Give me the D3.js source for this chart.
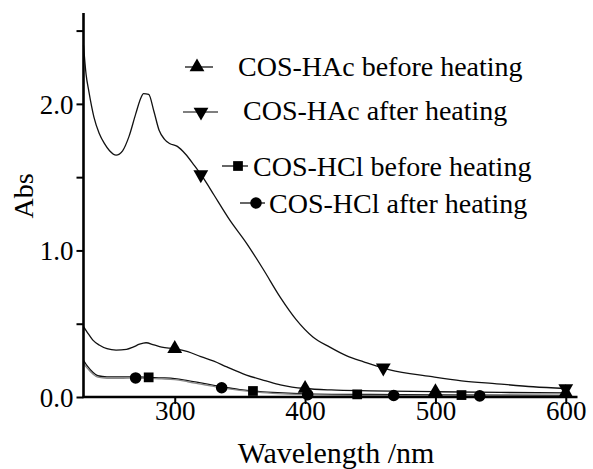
<!DOCTYPE html>
<html>
<head>
<meta charset="utf-8">
<script src="https://cdn.jsdelivr.net/npm/d3@7"></script>
<style>
  html, body { margin: 0; padding: 0; background: #fff; }
  svg { display: block; }
  text { font-family: "Liberation Serif", "Times New Roman", serif; fill: #000; }
</style>
</head>
<body>
<svg id="chart" width="593" height="469"></svg>
<script>
// UV-Vis absorption spectra of chitooligosaccharide solutions

const xTicks = [300, 400, 500, 600];
const yTicks = [0, 0.5, 1.0, 1.5, 2.0, 2.5];
const yTickLabels = ["0.0", "", "1.0", "", "2.0", ""];

// COS-HAc after heating
const hacAfterWl  = [230, 232, 234, 238, 242, 246, 250, 255, 260, 265, 270, 274, 276, 280, 284, 288, 292, 296, 302, 308, 315, 323, 330, 342, 355, 368, 381, 393, 406, 419, 432, 445, 465, 496, 520, 547, 575, 600];
const hacAfterAbs = [2.40, 2.20, 2.09, 1.91, 1.80, 1.73, 1.68, 1.65, 1.68, 1.78, 1.93, 2.04, 2.07, 2.065, 1.95, 1.82, 1.76, 1.73, 1.71, 1.66, 1.58, 1.48, 1.38, 1.21, 1.05, 0.87, 0.68, 0.53, 0.41, 0.34, 0.28, 0.24, 0.185, 0.14, 0.11, 0.09, 0.07, 0.058];

// COS-HAc before heating
const hacBeforeWl  = [230, 233, 237, 242, 248, 255, 263, 268, 273, 278, 284, 290, 300, 310, 320, 330, 340, 355, 370, 381, 390, 400, 420, 450, 500, 550, 600];
const hacBeforeAbs = [0.48, 0.44, 0.39, 0.355, 0.33, 0.32, 0.325, 0.34, 0.36, 0.37, 0.355, 0.34, 0.33, 0.31, 0.275, 0.245, 0.205, 0.15, 0.11, 0.082, 0.068, 0.058, 0.048, 0.042, 0.036, 0.031, 0.028];

// COS-HCl before heating
const hclBeforeWl  = [230, 233, 237, 241, 248, 260, 270, 280, 290, 300, 310, 320, 330, 340, 350, 360, 375, 400, 450, 500, 550, 600];
const hclBeforeAbs = [0.25, 0.21, 0.17, 0.145, 0.137, 0.137, 0.138, 0.134, 0.131, 0.126, 0.112, 0.096, 0.079, 0.063, 0.051, 0.041, 0.031, 0.022, 0.017, 0.014, 0.012, 0.011];

// COS-HCl after heating
const hclAfterWl  = [230, 233, 237, 241, 248, 260, 270, 280, 290, 300, 310, 320, 330, 340, 350, 360, 375, 400, 450, 500, 550, 600];
const hclAfterAbs = [0.23, 0.195, 0.158, 0.135, 0.128, 0.128, 0.130, 0.126, 0.123, 0.118, 0.104, 0.088, 0.072, 0.057, 0.045, 0.035, 0.025, 0.016, 0.011, 0.009, 0.007, 0.006];

// marker positions along each spectrum (nm)
const hacAfterMarks  = [320, 460, 600];
const hacBeforeMarks = [300, 400, 500, 600];
const hclBeforeMarks = [280, 360, 440, 520];
const hclAfterMarks  = [270, 336, 402, 468, 534];

const seriesNames = ["COS-HAc before heating", "COS-HAc after heating", "COS-HCl before heating", "COS-HCl after heating"];

const svg = d3.select("#chart");

const x = d3.scaleLinear().domain([230, 609]).range([83.5, 577.5]);
const y = d3.scaleLinear().domain([0, 2.62]).range([397, 13]);

function interp(wls, vals, w) {
  for (let i = 0; i < wls.length - 1; i++) {
    if (w >= wls[i] && w <= wls[i + 1]) {
      const t = (w - wls[i]) / (wls[i + 1] - wls[i]);
      return vals[i] + t * (vals[i + 1] - vals[i]);
    }
  }
  return vals[vals.length - 1];
}

const line = d3.line()
  .x(d => x(d[0]))
  .y(d => y(d[1]))
  .curve(d3.curveMonotoneX);

const series = [
  { wl: hacBeforeWl, abs: hacBeforeAbs, marks: hacBeforeMarks, symbol: d3.symbolTriangle, rot: 0, size: 95, stroke: "#111" },
  { wl: hacAfterWl,  abs: hacAfterAbs,  marks: hacAfterMarks,  symbol: d3.symbolTriangle, rot: 180, size: 95, stroke: "#111" },
  { wl: hclBeforeWl, abs: hclBeforeAbs, marks: hclBeforeMarks, symbol: d3.symbolSquare, rot: 0, size: 95, stroke: "#111" },
  { wl: hclAfterWl,  abs: hclAfterAbs,  marks: hclAfterMarks,  symbol: d3.symbolCircle, rot: 0, size: 105, stroke: "#8a8a8a" }
];

// spectra
series.forEach(s => {
  svg.append("path")
    .datum(s.wl.map((w, i) => [w, s.abs[i]]))
    .attr("d", line)
    .attr("fill", "none")
    .attr("stroke", s.stroke)
    .attr("stroke-width", 1.3);
});

// markers
series.forEach(s => {
  svg.append("g").selectAll("path")
    .data(s.marks)
    .join("path")
    .attr("d", d3.symbol().type(s.symbol).size(s.size))
    .attr("transform", w => `translate(${x(w)},${y(interp(s.wl, s.abs, w))}) rotate(${s.rot})`)
    .attr("fill", "#000");
});

// axes
const xAxis = svg.append("g")
  .attr("transform", `translate(0,${y(0)})`)
  .call(d3.axisBottom(x).tickValues(xTicks).tickSize(7).tickPadding(2).tickSizeOuter(0));
xAxis.select(".domain").attr("stroke-width", 2.6).attr("d", `M${x(230) - 1},0H${x(609)}`);
xAxis.selectAll(".tick line").attr("stroke-width", 2);
xAxis.selectAll(".tick text")
  .attr("font-size", 27)
  .attr("dy", "0.52em");

const yAxis = svg.append("g")
  .attr("transform", `translate(${x(230)},0)`)
  .call(d3.axisLeft(y).tickValues(yTicks).tickFormat((d, i) => yTickLabels[i]).tickSize(7).tickPadding(3).tickSizeOuter(0));
yAxis.select(".domain").attr("stroke-width", 2.6).attr("d", `M0,${y(2.62)}V${y(0) + 1}`);
yAxis.selectAll(".tick line").attr("stroke-width", 2);
yAxis.selectAll(".tick text")
  .attr("font-size", 27)
  .attr("dy", "0.35em");

svg.selectAll(".domain, .tick line").attr("stroke", "#000");
svg.selectAll(".tick text").attr("font-family", "Liberation Serif, serif").attr("fill", "#000");

// axis titles
svg.append("text")
  .attr("x", 336)
  .attr("y", 463)
  .attr("text-anchor", "middle")
  .attr("font-size", 30)
  .text("Wavelength /nm");

svg.append("text")
  .attr("transform", "translate(33,196) rotate(-90)")
  .attr("text-anchor", "middle")
  .attr("font-size", 28)
  .text("Abs");

// legend
const legendRows = [
  { name: seriesNames[0], sym: d3.symbolTriangle, rot: 0,   size: 95,  mx: 197, my: 67,  x0: 185, x1: 213, tx: 238, ty: 76 },
  { name: seriesNames[1], sym: d3.symbolTriangle, rot: 180, size: 95,  mx: 201, my: 112, x0: 183, x1: 218, tx: 243, ty: 120 },
  { name: seriesNames[2], sym: d3.symbolSquare,   rot: 0,   size: 95,  mx: 238, my: 166, x0: 222, x1: 248, tx: 253, ty: 176 },
  { name: seriesNames[3], sym: d3.symbolCircle,   rot: 0,   size: 105, mx: 256, my: 203, x0: 240, x1: 265, tx: 269, ty: 213 }
];

const legend = svg.append("g");
legendRows.forEach(r => {
  legend.append("line")
    .attr("x1", r.x0).attr("x2", r.x1)
    .attr("y1", r.my).attr("y2", r.my)
    .attr("stroke", "#000").attr("stroke-width", 1.2);
  legend.append("path")
    .attr("d", d3.symbol().type(r.sym).size(r.size))
    .attr("transform", `translate(${r.mx},${r.my}) rotate(${r.rot})`)
    .attr("fill", "#000");
  legend.append("text")
    .attr("x", r.tx).attr("y", r.ty)
    .attr("font-size", 28)
    .text(r.name);
});
</script>
</body>
</html>
